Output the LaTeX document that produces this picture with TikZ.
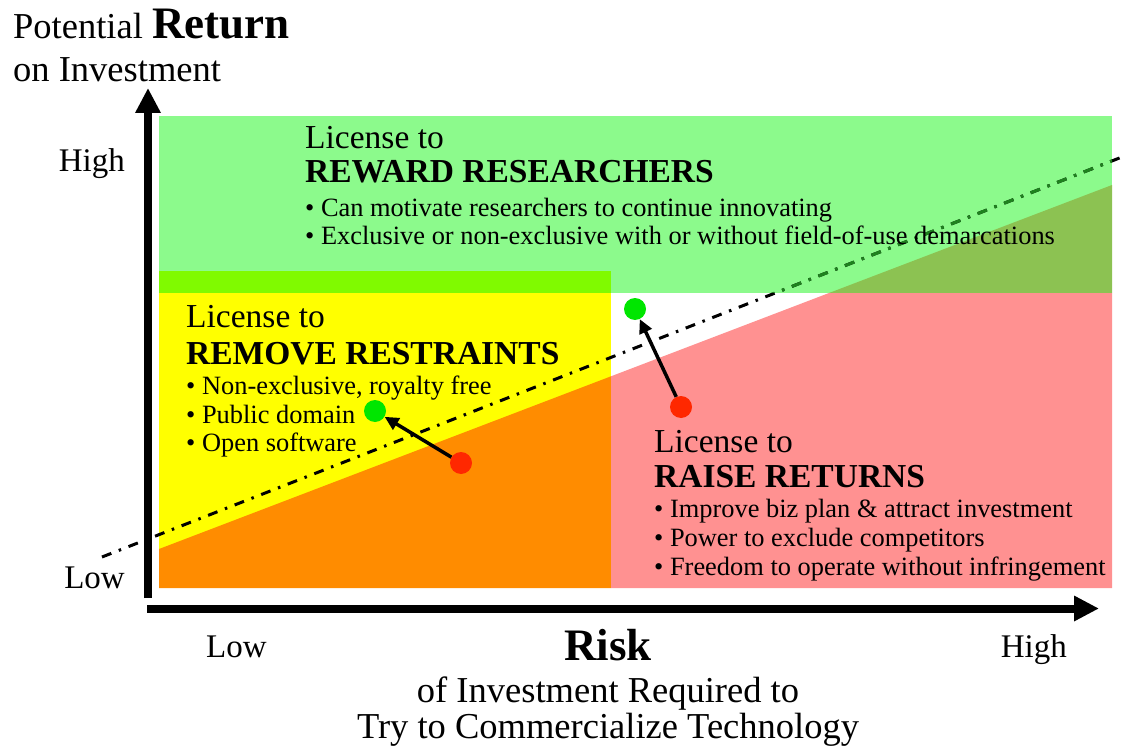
\documentclass[tikz,border=0pt]{standalone}
\usepackage{fontspec}
\setmainfont{Liberation Serif}
\usepackage{xcolor}
\usetikzlibrary{arrows.meta}
\definecolor{rewardgreen}{RGB}{140,250,140}
\definecolor{limestrip}{RGB}{128,250,0}
\definecolor{removeyellow}{RGB}{255,255,0}
\definecolor{removeorange}{RGB}{255,140,0}
\definecolor{raisepink}{RGB}{255,145,145}
\definecolor{raiseolive}{RGB}{140,194,82}
\definecolor{dotgreen}{RGB}{0,230,0}
\definecolor{dotred}{RGB}{255,40,0}
\definecolor{trendgreen}{RGB}{30,130,30}
\newcommand{\axisfont}{\fontsize{36.5pt}{40pt}\selectfont}
\newcommand{\bigfont}{\fontsize{45pt}{48pt}\selectfont\bfseries}
\newcommand{\tickfont}{\fontsize{33pt}{36pt}\selectfont}
\newcommand{\licfont}{\fontsize{33.5pt}{36pt}\selectfont}
\newcommand{\itemfont}{\fontsize{26.4pt}{28pt}\selectfont}
\tikzset{
	trend/.style={line width=3pt, dash pattern=on 10pt off 8pt on 2.5pt off 8pt},
	axis/.style={line width=8pt, -{Triangle[length=25pt,width=24pt]}},
	move/.style={line width=3.5pt, -{Triangle[length=14pt,width=13pt]}},
	dot/.style={circle, minimum size=22pt}
}
\begin{document}
\begin{tikzpicture}[x=1pt,y=1pt]
					\tikzstyle{every node}+=[inner sep=0pt]
					\useasboundingbox (0,0) rectangle (1124,-751);
					\fill [rewardgreen] (159,-116) rectangle (1112,-293);
					\fill [limestrip] (159,-271) rectangle (611,-293);
					\fill [removeyellow] (159,-293) rectangle (611,-588);
					\fill [removeorange] (159,-549) -- (611,-376.3) -- (611,-588) -- (159,-588) -- cycle;
					\fill [raisepink] (611,-376.3) -- (829,-293) -- (1112,-293) -- (1112,-588) -- (611,-588) -- cycle;
					\fill [raiseolive] (829,-293) -- (1112,-185) -- (1112,-293) -- cycle;
					\coordinate (trendlo) at (102,-557);
					\coordinate (trendhi) at (1122,-157);
					\draw [trend, black] (trendlo) -- (trendhi);
					\begin{scope}
					\clip (159,-116) rectangle (1112,-293);
					\draw [trend, trendgreen] (trendlo) -- (trendhi);
					\end{scope}
					\coordinate (ybot) at (148,-598);
					\coordinate (ytop) at (148,-88);
					\coordinate (xleft) at (147,-608.5);
					\coordinate (xright) at (1099,-608.5);
					\draw [axis] (ybot) -- (ytop);
					\draw [axis] (xleft) -- (xright);
					\node [dot, fill=dotgreen] (remgreen) at (375,-411) {};
					\node [dot, fill=dotred] (remred) at (461,-463) {};
					\node [dot, fill=dotgreen] (raisegreen) at (635,-309) {};
					\node [dot, fill=dotred] (raisered) at (681,-407) {};
					\draw [move] (remred) -- (remgreen);
					\draw [move] (raisered) -- (raisegreen);
					\node [anchor=base west] (potential) at (13,-39) {\axisfont Potential {\bigfont Return}};
					\node [anchor=base west] (investment) at (13,-82) {\axisfont on Investment};
					\node [anchor=base east] (yhigh) at (125,-172) {\tickfont High};
					\node [anchor=base east] (ylow) at (125,-588) {\tickfont Low};
					\node [anchor=base west] (xlow) at (206,-657) {\tickfont Low};
					\node [anchor=base east] (xhigh) at (1067,-657) {\tickfont High};
					\node [anchor=base] (risk) at (608,-660) {\bigfont Risk};
					\node [anchor=base] (required) at (608,-702) {\axisfont of Investment Required to};
					\node [anchor=base] (commercialize) at (608,-738) {\axisfont Try to Commercialize Technology};
					\node [anchor=base west] (rewardlic) at (305,-149) {\licfont License to};
					\node [anchor=base west] (rewardtitle) at (305,-183) {\licfont\bfseries REWARD RESEARCHERS};
					\node [anchor=base west] (rewardone) at (305,-217) {\itemfont • Can motivate researchers to continue innovating};
					\node [anchor=base west] (rewardtwo) at (305,-245) {\itemfont • Exclusive or non-exclusive with or without field-of-use demarcations};
					\node [anchor=base west] (removelic) at (186,-327) {\licfont License to};
					\node [anchor=base west] (removetitle) at (186,-364) {\licfont\bfseries REMOVE RESTRAINTS};
					\node [anchor=base west] (removeone) at (186,-394) {\itemfont • Non-exclusive, royalty free};
					\node [anchor=base west] (removetwo) at (186,-423) {\itemfont • Public domain};
					\node [anchor=base west] (removethree) at (186,-451) {\itemfont • Open software};
					\node [anchor=base west] (raiselic) at (654,-452) {\licfont License to};
					\node [anchor=base west] (raisetitle) at (654,-487) {\licfont\bfseries RAISE RETURNS};
					\node [anchor=base west] (raiseone) at (654,-517) {\itemfont • Improve biz plan \& attract investment};
					\node [anchor=base west] (raisetwo) at (654,-546) {\itemfont • Power to exclude competitors};
					\node [anchor=base west] (raisethree) at (654,-575) {\itemfont • Freedom to operate without infringement};
					\end{tikzpicture}
\end{document}
